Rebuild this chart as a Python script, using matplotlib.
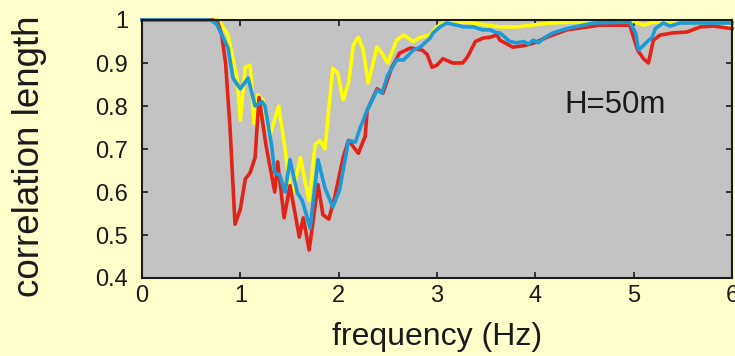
import matplotlib
matplotlib.use('Agg')
import matplotlib.pyplot as plt
import numpy as np

plt.rcParams['font.family'] = ['Liberation Sans', 'DejaVu Sans']

# frequency (Hz) / correlation length
f_yel = [0, 0.78, 0.875, 0.925, 0.97, 1.0, 1.05, 1.10, 1.14, 1.18, 1.23, 1.30, 1.39, 1.455, 1.485,
         1.525, 1.61, 1.70, 1.76, 1.81, 1.86, 1.94, 1.99, 2.045, 2.10, 2.15, 2.20, 2.25, 2.30, 2.39,
         2.44, 2.50, 2.59, 2.66, 2.76, 2.83, 2.93, 3.00, 3.06, 3.31, 3.51, 3.64, 3.81, 4.15, 4.66,
         4.99, 5.10, 5.20, 5.34, 5.68, 5.88, 6.0]
c_yel = [1.0, 1.0, 0.965, 0.91, 0.86, 0.767, 0.89, 0.895, 0.76, 0.826, 0.814, 0.73, 0.80, 0.70, 0.644,
         0.588, 0.68, 0.58, 0.71, 0.72, 0.70, 0.888, 0.877, 0.814, 0.853, 0.942, 0.96, 0.93, 0.853, 0.937,
         0.923, 0.90, 0.953, 0.965, 0.95, 0.96, 0.965, 0.984, 0.993, 0.995, 0.988, 0.984, 0.984, 0.993, 0.998,
         0.998, 0.988, 0.995, 0.995, 0.993, 0.993, 0.984]

f_red = [0, 0.72, 0.77, 0.81, 0.85, 0.895, 0.946, 1.0, 1.05, 1.10, 1.15, 1.19, 1.26, 1.35, 1.38,
         1.445, 1.505, 1.60, 1.64, 1.70, 1.79, 1.84, 1.90, 1.96, 2.045, 2.10, 2.20, 2.27, 2.29, 2.39,
         2.45, 2.54, 2.62, 2.73, 2.85, 2.90, 2.95, 3.00, 3.06, 3.16, 3.26, 3.31, 3.39, 3.47, 3.54,
         3.61, 3.64, 3.77, 3.88, 3.98, 4.12, 4.32, 4.66, 4.96, 5.04, 5.10, 5.15, 5.20, 5.27, 5.40,
         5.54, 5.68, 5.81, 6.0]
c_red = [1.0, 1.0, 0.995, 0.965, 0.90, 0.75, 0.525, 0.56, 0.63, 0.645, 0.68, 0.82, 0.71, 0.60, 0.67,
         0.54, 0.615, 0.495, 0.54, 0.465, 0.617, 0.547, 0.537, 0.588, 0.68, 0.72, 0.69, 0.73, 0.79, 0.84,
         0.83, 0.89, 0.923, 0.935, 0.93, 0.92, 0.89, 0.895, 0.91, 0.90, 0.90, 0.914, 0.95, 0.958, 0.96,
         0.965, 0.953, 0.937, 0.94, 0.946, 0.96, 0.977, 0.988, 0.988, 0.93, 0.91, 0.90, 0.953, 0.965, 0.97,
         0.972, 0.984, 0.986, 0.98]

f_blu = [0, 0.70, 0.76, 0.875, 0.925, 1.0, 1.08, 1.15, 1.22, 1.25, 1.32, 1.35, 1.40, 1.455, 1.505,
         1.58, 1.63, 1.71, 1.79, 1.86, 1.94, 2.01, 2.10, 2.17, 2.22, 2.29, 2.39, 2.44, 2.50, 2.59,
         2.66, 2.76, 2.83, 2.93, 2.96, 3.03, 3.10, 3.20, 3.27, 3.37, 3.46, 3.54, 3.61, 3.64, 3.74,
         3.81, 3.88, 3.93, 3.98, 4.03, 4.10, 4.18, 4.32, 4.59, 4.96, 5.02, 5.05, 5.14, 5.19, 5.22,
         5.30, 5.37, 5.47, 5.68, 5.85, 6.0]
c_blu = [1.0, 1.0, 0.99, 0.935, 0.865, 0.84, 0.865, 0.80, 0.81, 0.80, 0.705, 0.645, 0.64, 0.60, 0.675,
         0.598, 0.58, 0.516, 0.675, 0.61, 0.565, 0.605, 0.72, 0.716, 0.75, 0.79, 0.837, 0.83, 0.872, 0.907,
         0.907, 0.93, 0.937, 0.958, 0.97, 0.984, 0.993, 0.988, 0.984, 0.984, 0.977, 0.977, 0.97, 0.97, 0.95,
         0.947, 0.95, 0.944, 0.953, 0.947, 0.96, 0.97, 0.98, 0.993, 0.995, 0.97, 0.93, 0.95, 0.96, 0.98,
         0.993, 0.986, 0.993, 0.993, 0.993, 0.993]

xticks = [0, 1, 2, 3, 4, 5, 6]
yticks = [0.4, 0.5, 0.6, 0.7, 0.8, 0.9, 1.0]
ytick_labels = ['0.4', '0.5', '0.6', '0.7', '0.8', '0.9', '1']

fig = plt.figure(figsize=(7.35, 3.56), dpi=100, facecolor='#FFFFCC')
ax = fig.add_axes([142/735, 1-278/356, 590/735, 258/356])
ax.set_facecolor('#C3C3C3')

ax.plot(f_yel, c_yel, color='#FFFF00', lw=2.6, clip_on=False)
ax.plot(f_red, c_red, color='#E2231A', lw=2.6, clip_on=False)
ax.plot(f_blu, c_blu, color='#1B9AD6', lw=2.6, clip_on=False)

ax.set_xlim(0, 6)
ax.set_ylim(0.4, 1)
ax.set_xticks(xticks)
ax.set_yticks(yticks)
ax.set_yticklabels(ytick_labels)
ax.tick_params(direction='in', top=True, right=True, length=4, width=1.2,
               labelsize=17, colors='#1a1a1a')
ax.tick_params(axis='y', pad=10)
ax.tick_params(axis='x', pad=5)
for s in ax.spines.values():
    s.set_linewidth(1.5)
    s.set_color('#1a1a1a')

ax.text(4.30, 0.784, 'H=50m', fontsize=22.5, color='#1a1a1a', ha='left', va='baseline')

fig.text(30/735, 1-156/356, 'correlation length', rotation=90, ha='center', va='center',
         fontsize=26.5, color='#1a1a1a')
fig.text(437/735, 1-345/356, 'frequency (Hz)', ha='center', va='baseline',
         fontsize=23, color='#1a1a1a')

fig.savefig('out.png', dpi=100, facecolor=fig.get_facecolor())
